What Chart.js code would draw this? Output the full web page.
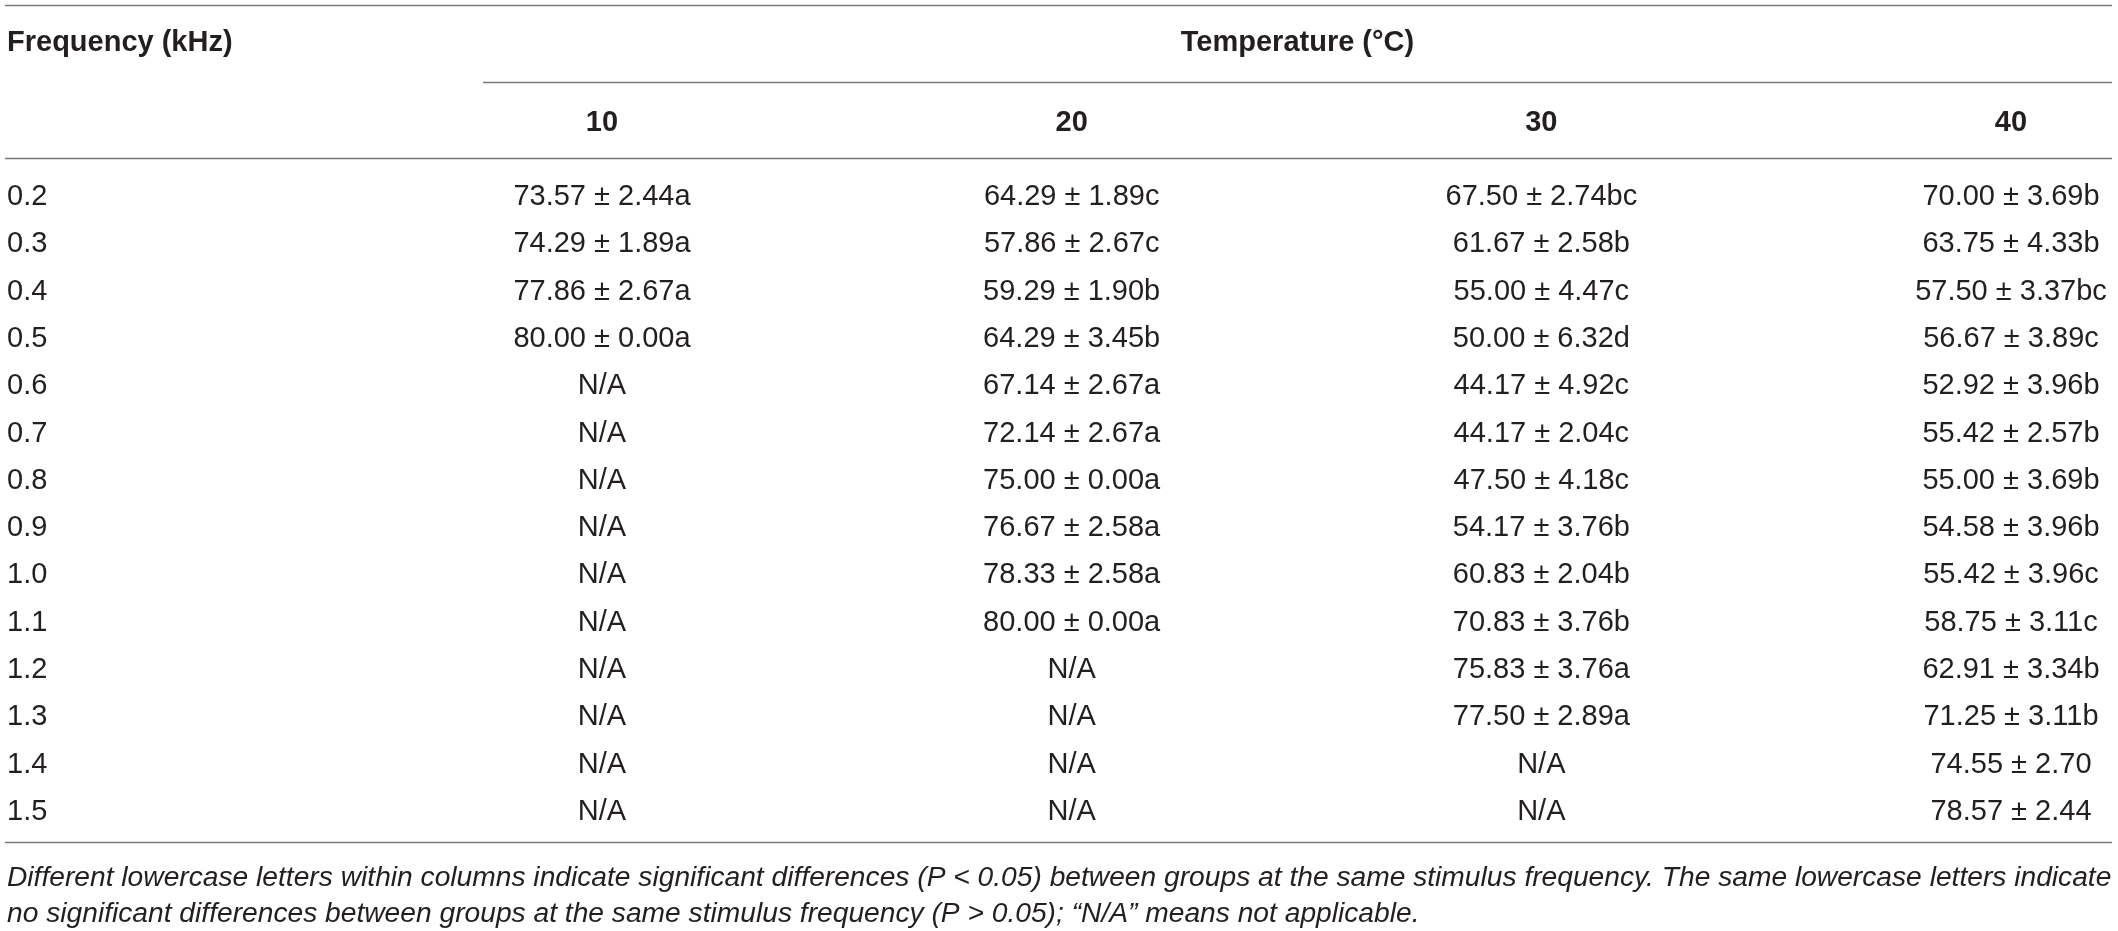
<!DOCTYPE html>
<html lang="en">

<head>
    <meta charset="utf-8" />
    <title>Table - hearing threshold by temperature</title>
    <script src="https://cdn.jsdelivr.net/npm/chart.js@4.4.1/dist/chart.umd.min.js"></script>
    <style>
        html, body { margin: 0; padding: 0; background: #fff; }
        #wrap { width: 2118px; height: 931px; position: relative; }
    </style>
</head>

<body>
    <div id="wrap"><canvas id="myChart"></canvas></div>

    <script type="text/javascript">
        // rows and columns of the table
        var frequencies = ['0.2', '0.3', '0.4', '0.5', '0.6', '0.7', '0.8', '0.9', '1.0', '1.1', '1.2', '1.3', '1.4', '1.5'];
        var temperatures = [10, 20, 30, 40];

        // mean, sd and significance letters per temperature column (null = N/A)
        var mean10 = [73.57, 74.29, 77.86, 80.00, null, null, null, null, null, null, null, null, null, null];
        var sd10 = [2.44, 1.89, 2.67, 0.00, null, null, null, null, null, null, null, null, null, null];
        var letters10 = ['a', 'a', 'a', 'a', '', '', '', '', '', '', '', '', '', ''];

        var mean20 = [64.29, 57.86, 59.29, 64.29, 67.14, 72.14, 75.00, 76.67, 78.33, 80.00, null, null, null, null];
        var sd20 = [1.89, 2.67, 1.90, 3.45, 2.67, 2.67, 0.00, 2.58, 2.58, 0.00, null, null, null, null];
        var letters20 = ['c', 'c', 'b', 'b', 'a', 'a', 'a', 'a', 'a', 'a', '', '', '', ''];

        var mean30 = [67.50, 61.67, 55.00, 50.00, 44.17, 44.17, 47.50, 54.17, 60.83, 70.83, 75.83, 77.50, null, null];
        var sd30 = [2.74, 2.58, 4.47, 6.32, 4.92, 2.04, 4.18, 3.76, 2.04, 3.76, 3.76, 2.89, null, null];
        var letters30 = ['bc', 'b', 'c', 'd', 'c', 'c', 'c', 'b', 'b', 'b', 'a', 'a', '', ''];

        var mean40 = [70.00, 63.75, 57.50, 56.67, 52.92, 55.42, 55.00, 54.58, 55.42, 58.75, 62.91, 71.25, 74.55, 78.57];
        var sd40 = [3.69, 4.33, 3.37, 3.89, 3.96, 2.57, 3.69, 3.96, 3.96, 3.11, 3.34, 3.11, 2.70, 2.44];
        var letters40 = ['b', 'b', 'bc', 'c', 'b', 'b', 'b', 'b', 'c', 'c', 'b', 'b', '', ''];

        var rowHeader = 'Frequency (kHz)';
        var colHeader = 'Temperature (\u00B0C)';
        var footnote = [
            'Different lowercase letters within columns indicate significant differences (P < 0.05) between groups at the same stimulus frequency. The same lowercase letters indicate',
            'no significant differences between groups at the same stimulus frequency (P > 0.05); \u201CN/A\u201D means not applicable.'
        ];

        var columns = [
            { temp: temperatures[0], mean: mean10, sd: sd10, letters: letters10 },
            { temp: temperatures[1], mean: mean20, sd: sd20, letters: letters20 },
            { temp: temperatures[2], mean: mean30, sd: sd30, letters: letters30 },
            { temp: temperatures[3], mean: mean40, sd: sd40, letters: letters40 }
        ];

        var FONT = '"Liberation Sans", Arial, Helvetica, sans-serif';
        var TEXT = '#231f20';
        var RULE = '#7a7a7a';

        function cellText(col, i) {
            if (col.mean[i] === null) return 'N/A';
            return col.mean[i].toFixed(2) + ' \u00B1 ' + col.sd[i].toFixed(2) + col.letters[i];
        }

        var datasets = columns.map(function(col) {
            return {
                label: String(col.temp),
                data: frequencies.map(function(f) { return { x: col.temp, y: f }; }),
                pointRadius: 0,
                pointHoverRadius: 0
            };
        });

        function hline(ctx, x1, x2, y) {
            ctx.beginPath();
            ctx.moveTo(x1, y + 0.5);
            ctx.lineTo(x2, y + 0.5);
            ctx.stroke();
        }

        var tablePlugin = {
            id: 'tableText',
            afterDatasetsDraw: function(chart) {
                var ctx = chart.ctx;
                var xs = chart.scales.x, ys = chart.scales.y;
                var firstRow = ys.getPixelForValue(0);
                var lastRow = ys.getPixelForValue(frequencies.length - 1);
                var left = 5, right = 2112;

                ctx.save();
                ctx.strokeStyle = RULE;
                ctx.lineWidth = 1.5;
                hline(ctx, left, right, 5);
                hline(ctx, 483, right, 82);
                hline(ctx, left, right, firstRow - 39);
                hline(ctx, left, right, lastRow + 30);

                ctx.fillStyle = TEXT;
                ctx.textBaseline = 'middle';

                // header rows
                ctx.font = 'bold 29px ' + FONT;
                ctx.textAlign = 'left';
                ctx.fillText(rowHeader, 7, 43);
                ctx.textAlign = 'center';
                ctx.fillText(colHeader, (483 + right) / 2, 43);
                temperatures.forEach(function(t) {
                    ctx.fillText(String(t), xs.getPixelForValue(t), firstRow - 74);
                });

                // frequency labels
                ctx.font = '29px ' + FONT;
                ctx.textAlign = 'left';
                frequencies.forEach(function(f, i) {
                    ctx.fillText(f, 7, ys.getPixelForValue(i));
                });

                // cells, placed at the points of each dataset
                ctx.textAlign = 'center';
                chart.data.datasets.forEach(function(ds, di) {
                    var meta = chart.getDatasetMeta(di);
                    meta.data.forEach(function(pt, i) {
                        ctx.fillText(cellText(columns[di], i), pt.x, pt.y);
                    });
                });

                // footnote
                ctx.font = 'italic 28.2px ' + FONT;
                ctx.textAlign = 'left';
                ctx.fillText(footnote[0], 7, lastRow + 66);
                ctx.fillText(footnote[1], 7, lastRow + 102);
                ctx.restore();
            }
        };

        var ctx = document.getElementById('myChart');
        var myChart = new Chart(ctx, {
            type: 'scatter',
            data: { datasets: datasets },
            options: {
                responsive: true,
                maintainAspectRatio: false,
                animation: false,
                events: [],
                layout: { padding: { left: 602, right: 107, top: 197, bottom: 119 } },
                plugins: { legend: { display: false }, tooltip: { enabled: false } },
                scales: {
                    x: { type: 'linear', min: 10, max: 40, display: false },
                    y: { type: 'category', labels: frequencies, offset: false, display: false }
                }
            },
            plugins: [tablePlugin]
        });
    </script>
</body>
</html>
